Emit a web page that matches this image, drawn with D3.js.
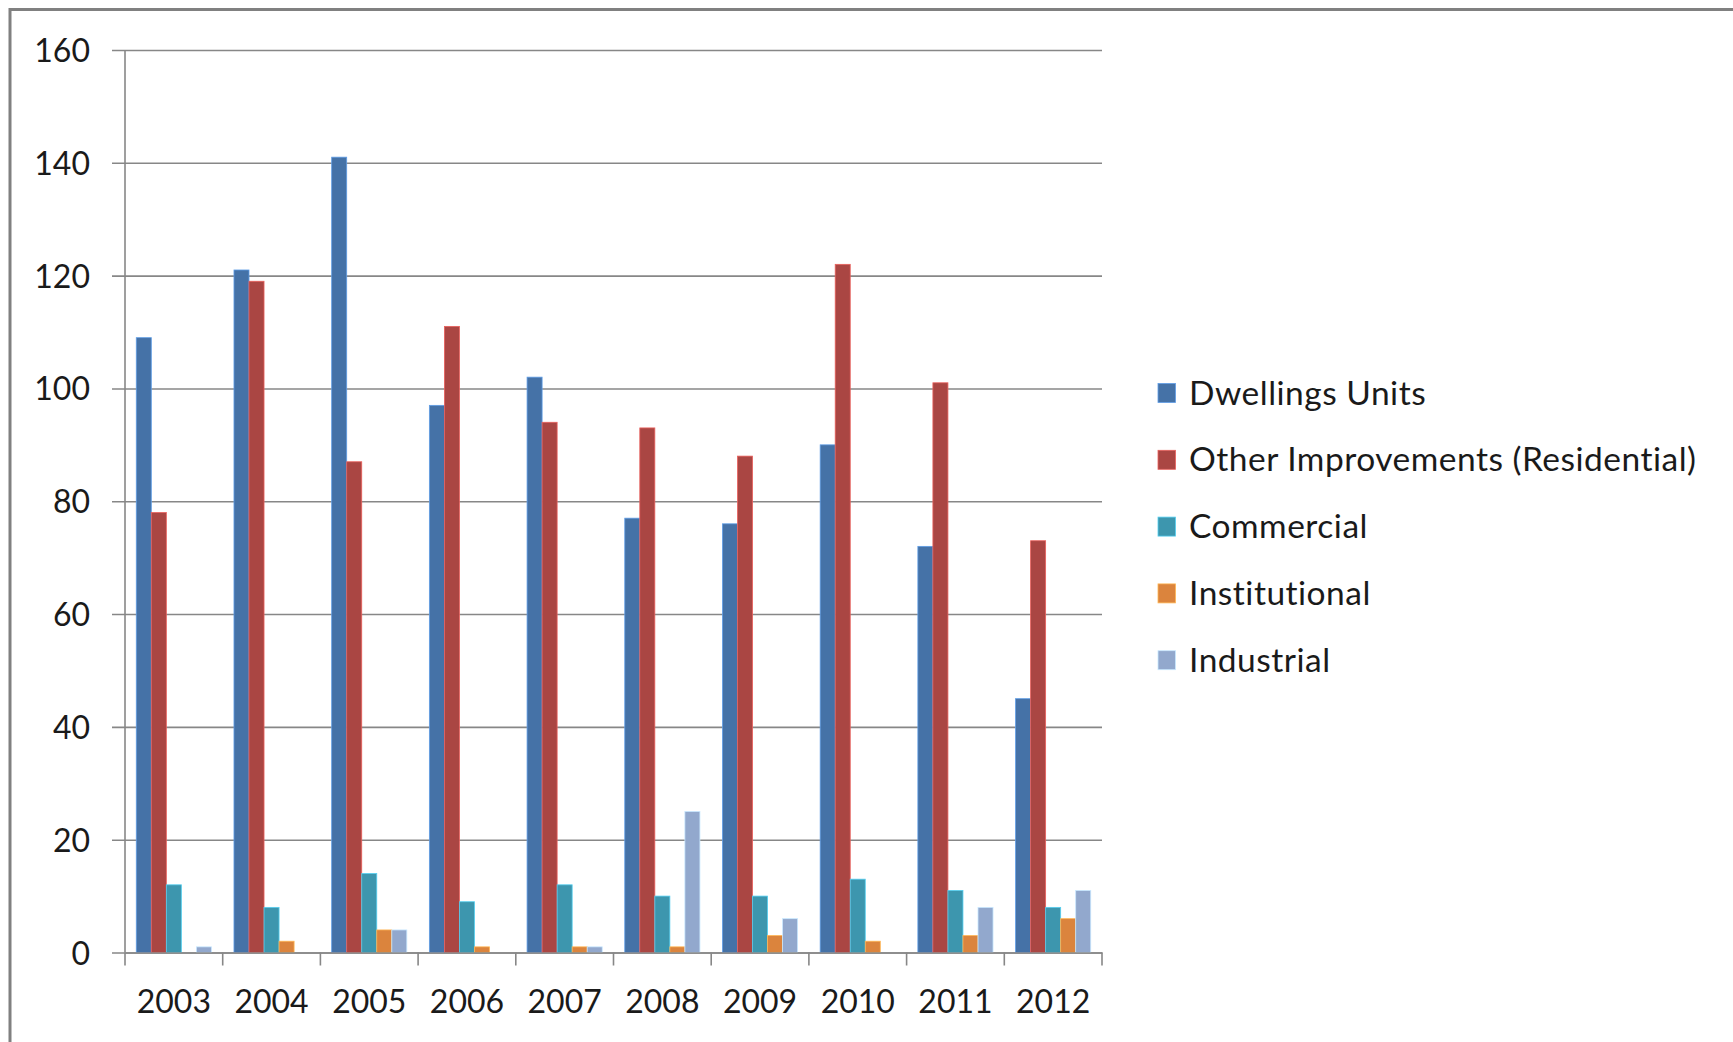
<!DOCTYPE html>
<html>
<head>
<meta charset="utf-8">
<script src="https://cdn.jsdelivr.net/npm/d3@7/dist/d3.min.js"></script>
<style>
  html, body { margin: 0; padding: 0; background: #fff; }
  svg { display: block; }
  text { font-family: Lato, "Open Sans", sans-serif; fill: #1a1a1a; }
</style>
</head>
<body>
<svg id="chart" width="1733" height="1042"></svg>
<script>
// Building permits by year and type
const years = ["2003", "2004", "2005", "2006", "2007", "2008", "2009", "2010", "2011", "2012"];
const seriesNames = ["Dwellings Units", "Other Improvements (Residential)", "Commercial", "Institutional", "Industrial"];
const dwellings   = [109, 121, 141, 97, 102, 77, 76, 90, 72, 45];
const otherResid  = [78, 119, 87, 111, 94, 93, 88, 122, 101, 73];
const commercial  = [12, 8, 14, 9, 12, 10, 10, 13, 11, 8];
const institution = [0, 2, 4, 1, 1, 1, 3, 2, 3, 6];
const industrial  = [1, 0, 4, 0, 1, 25, 6, 0, 8, 11];
const yTicks = [0, 20, 40, 60, 80, 100, 120, 140, 160];
const colors = ["#4572A7", "#AA4643", "#3D96AE", "#DB843D", "#92A8CD"];

const seriesValues = [dwellings, otherResid, commercial, institution, industrial];
const rows = years.map((yr, i) => ({
  year: yr,
  values: seriesNames.map((name, s) => ({ name, value: seriesValues[s][i], color: colors[s] }))
}));

const svg = d3.select("#chart");
const plot = { left: 125, right: 1102, top: 50, bottom: 952.5 };
const gridColor = "#878787";

// frame around the chart area
svg.append("rect")
  .attr("x", 10).attr("y", 9.5)
  .attr("width", 1800).attr("height", 1100)
  .attr("fill", "none").attr("stroke", "#808080").attr("stroke-width", 3);

const y = d3.scaleLinear().domain([0, 160]).range([plot.bottom, plot.top]);
const x0 = d3.scaleBand().domain(years).range([plot.left, plot.right]).paddingInner(0).paddingOuter(0);
const x1 = d3.scaleBand().domain(seriesNames).range([0, x0.bandwidth()]).paddingInner(0).paddingOuter(0.75);

// horizontal gridlines with outward ticks and labels
const yAxis = d3.axisLeft(y)
  .tickValues(yTicks)
  .tickSize(-(plot.right - plot.left))
  .tickSizeOuter(0)
  .tickPadding(0)
  .tickFormat(d3.format("d"));
const gy = svg.append("g").attr("transform", `translate(${plot.left},0)`).call(yAxis);
gy.select(".domain").remove();
gy.selectAll(".tick line")
  .attr("x1", -13)
  .attr("stroke", gridColor).attr("stroke-width", 1.6);
gy.selectAll(".tick text")
  .attr("x", -35).attr("dy", "0.36em")
  .attr("font-size", 32)
  .style("font-family", "Lato, 'Open Sans', sans-serif")
  .attr("fill", "#1a1a1a");

// vertical axis line
svg.append("line")
  .attr("x1", plot.left).attr("x2", plot.left)
  .attr("y1", plot.top).attr("y2", plot.bottom)
  .attr("stroke", gridColor).attr("stroke-width", 1.6);

// bars
const groups = svg.append("g").selectAll("g")
  .data(rows).join("g")
  .attr("transform", d => `translate(${x0(d.year)},0)`);
groups.selectAll("rect")
  .data(d => d.values.filter(v => v.value > 0))
  .join("rect")
  .attr("x", d => x1(d.name))
  .attr("y", d => y(d.value))
  .attr("width", x1.bandwidth())
  .attr("height", d => y(0) - y(d.value))
  .attr("fill", d => d.color)
  .attr("stroke", d => d3.color(d.color).brighter(0.9))
  .attr("stroke-width", 0.8);

// category axis: baseline, boundary ticks, year labels
const xAxis = d3.axisBottom(x0).tickSize(0).tickSizeOuter(0).tickPadding(0);
const gx = svg.append("g").attr("transform", `translate(0,${plot.bottom})`).call(xAxis);
gx.select(".domain").attr("stroke", gridColor).attr("stroke-width", 1.6);
gx.selectAll(".tick text")
  .attr("y", 60).attr("dy", 0)
  .attr("font-size", 32)
  .style("font-family", "Lato, 'Open Sans', sans-serif")
  .attr("fill", "#1a1a1a");

const boundaries = years.map(yr => x0(yr)).concat([x0(years[years.length - 1]) + x0.bandwidth()]);
svg.append("g").selectAll("line")
  .data(boundaries).join("line")
  .attr("x1", d => d).attr("x2", d => d)
  .attr("y1", plot.bottom).attr("y2", plot.bottom + 13)
  .attr("stroke", gridColor).attr("stroke-width", 1.6);

// legend
const legend = svg.append("g").attr("transform", "translate(1158,0)");
const legendRows = legend.selectAll("g")
  .data(seriesNames).join("g")
  .attr("transform", (d, i) => `translate(0,${393 + i * 66.8})`);
legendRows.append("rect")
  .attr("x", 0).attr("y", -9.5)
  .attr("width", 17.5).attr("height", 19)
  .attr("fill", (d, i) => colors[i])
  .attr("stroke", (d, i) => d3.color(colors[i]).brighter(0.9))
  .attr("stroke-width", 0.8);
legendRows.append("text")
  .attr("x", 31).attr("y", 11.5)
  .attr("font-size", 33.5)
  .attr("letter-spacing", 0.5)
  .text(d => d);
</script>
</body>
</html>
